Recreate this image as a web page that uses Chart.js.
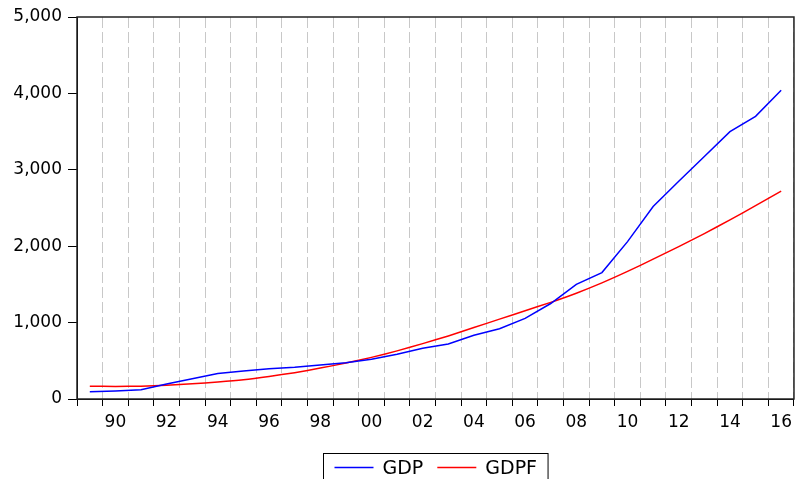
<!DOCTYPE html>
<html>
<head>
<meta charset="utf-8">
<script src="https://cdn.jsdelivr.net/npm/chart.js@4.4.1/dist/chart.umd.min.js"></script>
<style>
  html, body { margin: 0; padding: 0; background: #fff; }
</style>
</head>
<body>
<canvas id="gdpChart" width="798" height="479"></canvas>
<script>
var years = [1989, 1990, 1991, 1992, 1993, 1994, 1995, 1996, 1997, 1998,
             1999, 2000, 2001, 2002, 2003, 2004, 2005, 2006, 2007, 2008,
             2009, 2010, 2011, 2012, 2013, 2014, 2015, 2016];
var gdp  = [95, 105, 120, 195, 265, 335, 365, 395, 415, 445,
            475, 520, 585, 665, 720, 835, 920, 1055, 1250, 1500,
            1655, 2060, 2520, 2850, 3175, 3500, 3700, 4040];
var gdpf = [168, 165, 168, 180, 198, 222, 252, 295, 345, 405,
            470, 545, 630, 725, 825, 935, 1045, 1155, 1265, 1385,
            1520, 1670, 1830, 1995, 2165, 2345, 2530, 2720];
var yTicks = [0, 1000, 2000, 3000, 4000, 5000];

var FONT = "DejaVu Sans";

// box round the plot area, like the eviews frame
var frame = {
  id: "frame",
  afterDraw: function (chart) {
    var a = chart.chartArea, ctx = chart.ctx;
    ctx.save();
    ctx.strokeStyle = "#222";
    ctx.lineWidth = 1.5;
    ctx.strokeRect(a.left, a.top, a.right - a.left, a.bottom - a.top);
    ctx.restore();
  }
};

// legend in a box under the axis
var boxLegend = {
  id: "boxLegend",
  afterDraw: function (chart) {
    var ctx = chart.ctx, a = chart.chartArea;
    var sets = chart.data.datasets;
    var lineLen = 39, gap = 9, sep = 14, pad = 11;
    ctx.save();
    ctx.font = "19px '" + FONT + "'";
    var widths = sets.map(function (s) { return ctx.measureText(s.label).width; });
    var total = pad * 2 + sep * (sets.length - 1);
    widths.forEach(function (w) { total += lineLen + gap + w; });
    var left = Math.round((a.left + a.right) / 2 - total / 2) + 0.5;
    var top = a.bottom + 54.5;
    ctx.strokeStyle = "#000";
    ctx.lineWidth = 1;
    ctx.strokeRect(left, top, total, 40);
    var x = left + pad;
    var ly = top + 14;
    sets.forEach(function (s, i) {
      ctx.strokeStyle = s.borderColor;
      ctx.lineWidth = 1.5;
      ctx.beginPath();
      ctx.moveTo(x, ly);
      ctx.lineTo(x + lineLen, ly);
      ctx.stroke();
      ctx.fillStyle = "#000";
      ctx.textBaseline = "alphabetic";
      ctx.fillText(s.label, x + lineLen + gap, ly + 6.5);
      x += lineLen + gap + widths[i] + sep;
    });
    ctx.restore();
  }
};

new Chart(document.getElementById("gdpChart"), {
  type: "line",
  data: {
    labels: years,
    datasets: [{
      label: "GDP",
      data: gdp,
      borderColor: "#0000ff",
      backgroundColor: "#0000ff",
      borderWidth: 1.5,
      pointRadius: 0,
      tension: 0
    }, {
      label: "GDPF",
      data: gdpf,
      borderColor: "#ff0000",
      backgroundColor: "#ff0000",
      borderWidth: 1.5,
      pointRadius: 0,
      tension: 0.2
    }]
  },
  options: {
    responsive: false,
    animation: false,
    layout: { padding: { top: 17, right: 1, bottom: 40, left: 0 } },
    plugins: {
      legend: { display: false },
      tooltip: { enabled: false }
    },
    scales: {
      x: {
        type: "category",
        offset: true,
        grid: { offset: true, color: "#c8c8c8", lineWidth: 1, tickLength: 7, tickColor: "#000", tickWidth: 1 },
        border: { color: "#000", width: 1, dash: [11, 4] },
        ticks: {
          autoSkip: false, maxRotation: 0, minRotation: 0, padding: 6,
          color: "#000", font: { family: FONT, size: 17 },
          callback: function (v) {
            var yr = this.getLabelForValue(v);
            return yr % 2 === 0 ? String(yr).slice(2) : "";
          }
        },
        afterFit: function (s) { s.height = 40; }
      },
      y: {
        min: 0,
        max: 5000,
        afterBuildTicks: function (s) { s.ticks = yTicks.map(function (v) { return { value: v }; }); },
        grid: { drawOnChartArea: false, tickLength: 9, tickColor: "#000" },
        border: { color: "#000", width: 1 },
        ticks: {
          padding: 6, color: "#000", font: { family: FONT, size: 17 },
          callback: function (v) { return v.toLocaleString("en-US"); }
        },
        afterFit: function (s) { s.width = 77; }
      }
    }
  },
  plugins: [frame, boxLegend]
});
</script>
</body>
</html>
